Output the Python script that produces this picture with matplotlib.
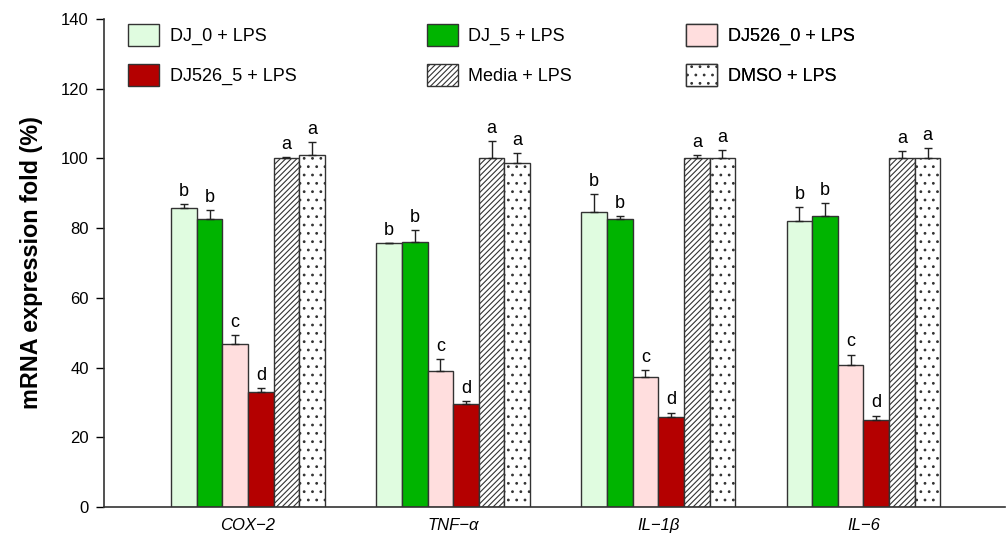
import numpy as np
import matplotlib
matplotlib.use("Agg")
import matplotlib.pyplot as plt

plt.rcParams['font.family'] = ['Liberation Sans', 'DejaVu Sans']
plt.rcParams['hatch.linewidth'] = 0.8

genes = ["COX\u22122", "TNF\u2212\u03b1", "IL\u22121\u03b2", "IL\u22126"]
groups = ["DJ_0 + LPS", "DJ_5 + LPS", "DJ526_0 + LPS", "DJ526_5 + LPS", "Media + LPS", "DMSO + LPS"]

# one list per treatment, in gene order
dj0 = [85.9, 75.6, 84.7, 82.0]
dj5 = [82.7, 76.0, 82.7, 83.5]
dj526_0 = [46.7, 39.0, 37.3, 40.7]
dj526_5 = [32.9, 29.5, 25.8, 25.0]
media = [100.0, 100.0, 100.0, 100.0]
dmso = [101.0, 98.8, 100.0, 100.0]

dj0_err = [0.9, 0.2, 5.0, 4.0]
dj5_err = [2.5, 3.5, 0.7, 3.8]
dj526_0_err = [2.7, 3.5, 2.0, 3.0]
dj526_5_err = [1.1, 1.0, 1.3, 1.2]
media_err = [0.3, 5.0, 1.0, 2.0]
dmso_err = [3.8, 2.8, 2.5, 3.0]

letters = ["b", "b", "c", "d", "a", "a"]

values = [dj0, dj5, dj526_0, dj526_5, media, dmso]
errors = [dj0_err, dj5_err, dj526_0_err, dj526_5_err, media_err, dmso_err]
colors = ["#E0FCE0", "#00B400", "#FFDEDE", "#B40000", "white", "white"]
hatches = [None, None, None, None, "//////", ".."]

fig = plt.figure(figsize=(10.07, 5.4), dpi=100)
ax = fig.add_axes([0.1033, 0.0611, 0.8947, 0.9037])

x = np.arange(1, len(genes) + 1)
w = 0.125
handles = []
for i in range(len(groups)):
    pos = x + (i - 2.5) * w
    vals = np.array(values[i])
    errs = np.array(errors[i])
    b = ax.bar(pos, vals, width=w, color=colors[i], edgecolor="#333333",
               linewidth=1.0, hatch=hatches[i], label=groups[i], zorder=2)
    ax.errorbar(pos, vals, yerr=[np.zeros_like(errs), errs], fmt="none",
                ecolor="#222222", elinewidth=1.0, capsize=3, capthick=1.0, zorder=3)
    for p, v, e in zip(pos, vals, errs):
        ax.text(p, v + e + 1.2, letters[i], ha="center", va="bottom", fontsize=13)
    handles.append(b)

ax.set_ylim(0, 140)
ax.set_xlim(0.298, 4.69)
ax.set_yticks(np.arange(0, 141, 20))
ax.tick_params(axis="y", direction="out", length=6, labelsize=12, width=1, pad=5)
ax.set_xticks(x)
ax.set_xticklabels(genes, fontsize=12, style="italic")
ax.tick_params(axis="x", length=0, pad=8)
ax.set_ylabel("mRNA expression fold (%)", fontsize=16.8, fontweight="bold", labelpad=13)

for s in ["top", "right"]:
    ax.spines[s].set_visible(False)
for s in ["left", "bottom"]:
    ax.spines[s].set_color("#333333")
    ax.spines[s].set_linewidth(1.2)

# legend: three columns of two rows, placed one column at a time
col_x = [0.0267, 0.358, 0.6457]
for c in range(3):
    idx = [c, c + 3]
    leg = ax.legend([handles[k] for k in idx], [groups[k] for k in idx],
                    frameon=False, loc="center left", bbox_to_anchor=(col_x[c], 0.9267),
                    fontsize=13, handlelength=1.72, handleheight=1.5,
                    labelspacing=1.0, handletextpad=0.6, borderpad=0, borderaxespad=0)
    ax.add_artist(leg)

fig.savefig("out.png", dpi=100)
